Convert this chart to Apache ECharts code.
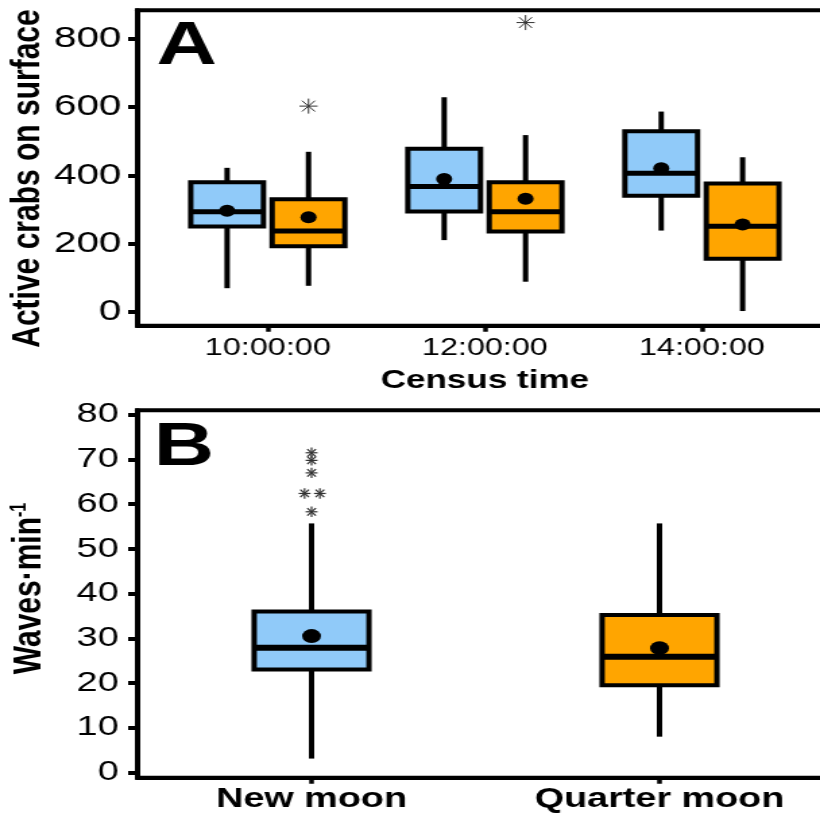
<!DOCTYPE html>
<html>
<head>
<meta charset="utf-8">
<script src="https://cdn.jsdelivr.net/npm/echarts@6.0.0/dist/echarts.min.js"></script>
<style>
  html, body { margin: 0; padding: 0; background: #fff; overflow: hidden; }
  /* the figure is a horizontally stretched one, so draw narrow and stretch */
  #main { width: 608px; height: 813px; transform: scaleX(1.3487); transform-origin: 0 0; }
</style>
</head>
<body>
<div id="main"></div>
<script>
var censusTimes = ['10:00:00', '12:00:00', '14:00:00'];
var crabTicks = [0, 200, 400, 600, 800];
// [min, Q1, median, Q3, max]
var crabsNewMoon = [[69, 250, 293, 380, 422], [210, 294, 367, 478, 629], [238, 340, 406, 529, 587]];
var crabsQuarterMoon = [[76, 192, 237, 330, 469], [88, 235, 293, 380, 518], [2, 155, 251, 376, 453]];
var crabsNewMoonMean = [296, 389, 421];
var crabsQuarterMoonMean = [277, 331, 256];
// [time index, value]
var crabsQuarterMoonOutliers = [[0, 603], [1, 848]];

var moonPhases = ['New moon', 'Quarter moon'];
var waveTicks = [0, 10, 20, 30, 40, 50, 60, 70, 80];
var wavesBox = [[3.1, 23.0, 27.9, 36.0, 55.7], [8.0, 19.5, 25.9, 35.2, 55.7]];
var wavesMean = [30.5, 27.8];
// [phase index, value, jitter]
var wavesOutliers = [[0, 71.5, 0], [0, 69.8, 0], [0, 67.0, 0], [0, 62.4, -0.02], [0, 62.4, 0.024], [0, 58.3, 0]];

var BLUE = '#90caf9';
var ORANGE = '#ffa500';
var DODGE = 0.1875;
var FONT = 'Liberation Sans';

var myChart = echarts.init(document.getElementById('main'));

function boxRows(stats, means, offset) {
  return stats.map(function (s, i) {
    return [i + 1 + offset].concat(s, [means[i]]);
  });
}

function boxRenderer(halfWidth, fill, medianWidth, dotRadius) {
  return function (params, api) {
    var x = api.value(0);
    var lo = api.coord([x, api.value(1)]);
    var q1 = api.coord([x, api.value(2)]);
    var q3 = api.coord([x, api.value(4)]);
    var hi = api.coord([x, api.value(5)]);
    var left = api.coord([x - halfWidth, api.value(3)]);
    var right = api.coord([x + halfWidth, api.value(3)]);
    var mean = api.coord([x, api.value(6)]);
    var line = {stroke: '#000', lineWidth: 4};
    return {
      type: 'group',
      children: [
        {type: 'line', shape: {x1: lo[0], y1: lo[1], x2: q1[0], y2: q1[1]}, style: line},
        {type: 'line', shape: {x1: q3[0], y1: q3[1], x2: hi[0], y2: hi[1]}, style: line},
        {
          type: 'rect',
          shape: {x: left[0], y: q3[1], width: right[0] - left[0], height: q1[1] - q3[1]},
          style: {fill: fill, stroke: '#000', lineWidth: 4}
        },
        {type: 'line', shape: {x1: left[0], y1: left[1], x2: right[0], y2: right[1]},
          style: {stroke: '#000', lineWidth: medianWidth}},
        {type: 'circle', shape: {cx: mean[0], cy: mean[1], r: dotRadius}, style: {fill: '#000'}}
      ]
    };
  };
}

function asteriskRenderer(hx, hy, width) {
  return function (params, api) {
    var p = api.coord([api.value(0), api.value(1)]);
    var st = {stroke: '#333', lineWidth: width};
    var dx = hx * 0.72, dy = hy * 0.72;
    return {
      type: 'group',
      children: [
        {type: 'line', shape: {x1: p[0] - hx, y1: p[1], x2: p[0] + hx, y2: p[1]}, style: st},
        {type: 'line', shape: {x1: p[0], y1: p[1] - hy, x2: p[0], y2: p[1] + hy}, style: st},
        {type: 'line', shape: {x1: p[0] - dx, y1: p[1] - dy, x2: p[0] + dx, y2: p[1] + dy}, style: st},
        {type: 'line', shape: {x1: p[0] - dx, y1: p[1] + dy, x2: p[0] + dx, y2: p[1] - dy}, style: st}
      ]
    };
  };
}

var crabOutlierRows = crabsQuarterMoonOutliers.map(function (o) { return [o[0] + 1 + DODGE, o[1]]; });
var waveOutlierRows = wavesOutliers.map(function (o) { return [o[0] + 1 + o[2], o[1]]; });

var axisLineStyle = {color: '#000', width: 4};

var option = {
  backgroundColor: '#fff',
  animation: false,
  grid: [
    {left: 102, top: 10.3, width: 515, height: 315.4, show: true, borderColor: '#000', borderWidth: 4,
      backgroundColor: 'transparent', containLabel: false, outerBoundsMode: 'none'},
    {left: 102, top: 410.3, width: 516, height: 367.5, show: true, borderColor: '#000', borderWidth: 4,
      backgroundColor: 'transparent', containLabel: false, outerBoundsMode: 'none'}
  ],
  xAxis: [
    {
      gridIndex: 0,
      type: 'value',
      min: 0.4,
      max: 3.6,
      axisLine: {onZero: false, lineStyle: axisLineStyle},
      axisTick: {customValues: [1, 2, 3], length: 6, lineStyle: {color: '#000', width: 3.5}},
      axisLabel: {
        customValues: [1, 2, 3],
        formatter: function (v) { return censusTimes[Math.round(v) - 1]; },
        fontSize: 24, fontFamily: FONT, color: '#000', margin: 11
      },
      splitLine: {show: false},
      name: 'Census time',
      nameLocation: 'middle',
      nameGap: 42,
      nameTextStyle: {fontSize: 26, fontWeight: 'bold', fontFamily: FONT, color: '#000'}
    },
    {
      gridIndex: 1,
      type: 'value',
      min: 0.5,
      max: 2.5,
      axisLine: {onZero: false, lineStyle: axisLineStyle},
      axisTick: {customValues: [1, 2], length: 6, lineStyle: {color: '#000', width: 3.5}},
      axisLabel: {
        customValues: [1, 2],
        formatter: function (v) { return moonPhases[Math.round(v) - 1]; },
        fontSize: 28, fontWeight: 'bold', fontFamily: FONT, color: '#000', margin: 7
      },
      splitLine: {show: false}
    }
  ],
  yAxis: [
    {
      gridIndex: 0,
      type: 'value',
      min: -41,
      max: 884,
      axisLine: {show: true, onZero: false, lineStyle: axisLineStyle},
      axisTick: {customValues: crabTicks, length: 7, lineStyle: {color: '#000', width: 4}},
      axisLabel: {customValues: crabTicks, fontSize: 30, fontFamily: FONT, color: '#000', margin: 12},
      splitLine: {show: false}
    },
    {
      gridIndex: 1,
      type: 'value',
      min: -1.2,
      max: 81,
      axisLine: {show: true, onZero: false, lineStyle: axisLineStyle},
      axisTick: {customValues: waveTicks, length: 7, lineStyle: {color: '#000', width: 4}},
      axisLabel: {customValues: waveTicks, fontSize: 28, fontFamily: FONT, color: '#000', margin: 14},
      splitLine: {show: false}
    }
  ],
  graphic: [
    {
      type: 'text', x: 20.3, y: 178.5, rotation: Math.PI / 2,
      style: {text: 'Active crabs on surface', fontSize: 30, fontWeight: 'bold', fontFamily: FONT,
        fill: '#000', align: 'center', verticalAlign: 'middle'}
    },
    {
      type: 'text', x: 21.5, y: 588.5, rotation: Math.PI / 2,
      style: {
        text: '{m|Waves·min}{s|-1}',
        align: 'center', verticalAlign: 'middle',
        rich: {
          m: {fontSize: 30, fontWeight: 'bold', fontFamily: FONT, fill: '#000', color: '#000'},
          s: {fontSize: 16, fontWeight: 'bold', fontFamily: FONT, fill: '#000', color: '#000', verticalAlign: 'top'}
        }
      }
    },
    {
      type: 'text', x: 116, y: 47,
      style: {text: 'A', fontSize: 62, fontWeight: 'bold', fontFamily: FONT, fill: '#000',
        align: 'left', verticalAlign: 'middle'}
    },
    {
      type: 'text', x: 114, y: 447.5,
      style: {text: 'B', fontSize: 62, fontWeight: 'bold', fontFamily: FONT, fill: '#000',
        align: 'left', verticalAlign: 'middle'}
    }
  ],
  series: [
    {
      name: 'New moon crabs', type: 'custom', xAxisIndex: 0, yAxisIndex: 0,
      renderItem: boxRenderer(0.1675, BLUE, 5, 6),
      data: boxRows(crabsNewMoon, crabsNewMoonMean, -DODGE)
    },
    {
      name: 'Quarter moon crabs', type: 'custom', xAxisIndex: 0, yAxisIndex: 0,
      renderItem: boxRenderer(0.1675, ORANGE, 5, 6),
      data: boxRows(crabsQuarterMoon, crabsQuarterMoonMean, DODGE)
    },
    {
      name: 'Crab outliers', type: 'custom', xAxisIndex: 0, yAxisIndex: 0,
      renderItem: asteriskRenderer(6.7, 7.5, 1),
      data: crabOutlierRows
    },
    {
      name: 'Waves', type: 'custom', xAxisIndex: 1, yAxisIndex: 1,
      renderItem: function (params, api) {
        var fill = params.dataIndex === 0 ? BLUE : ORANGE;
        return boxRenderer(0.165, fill, 6, 7)(params, api);
      },
      data: boxRows(wavesBox, wavesMean, 0)
    },
    {
      name: 'Wave outliers', type: 'custom', xAxisIndex: 1, yAxisIndex: 1,
      renderItem: asteriskRenderer(4.4, 5.2, 1.2),
      data: waveOutlierRows
    }
  ]
};

myChart.setOption(option);
</script>
</body>
</html>
